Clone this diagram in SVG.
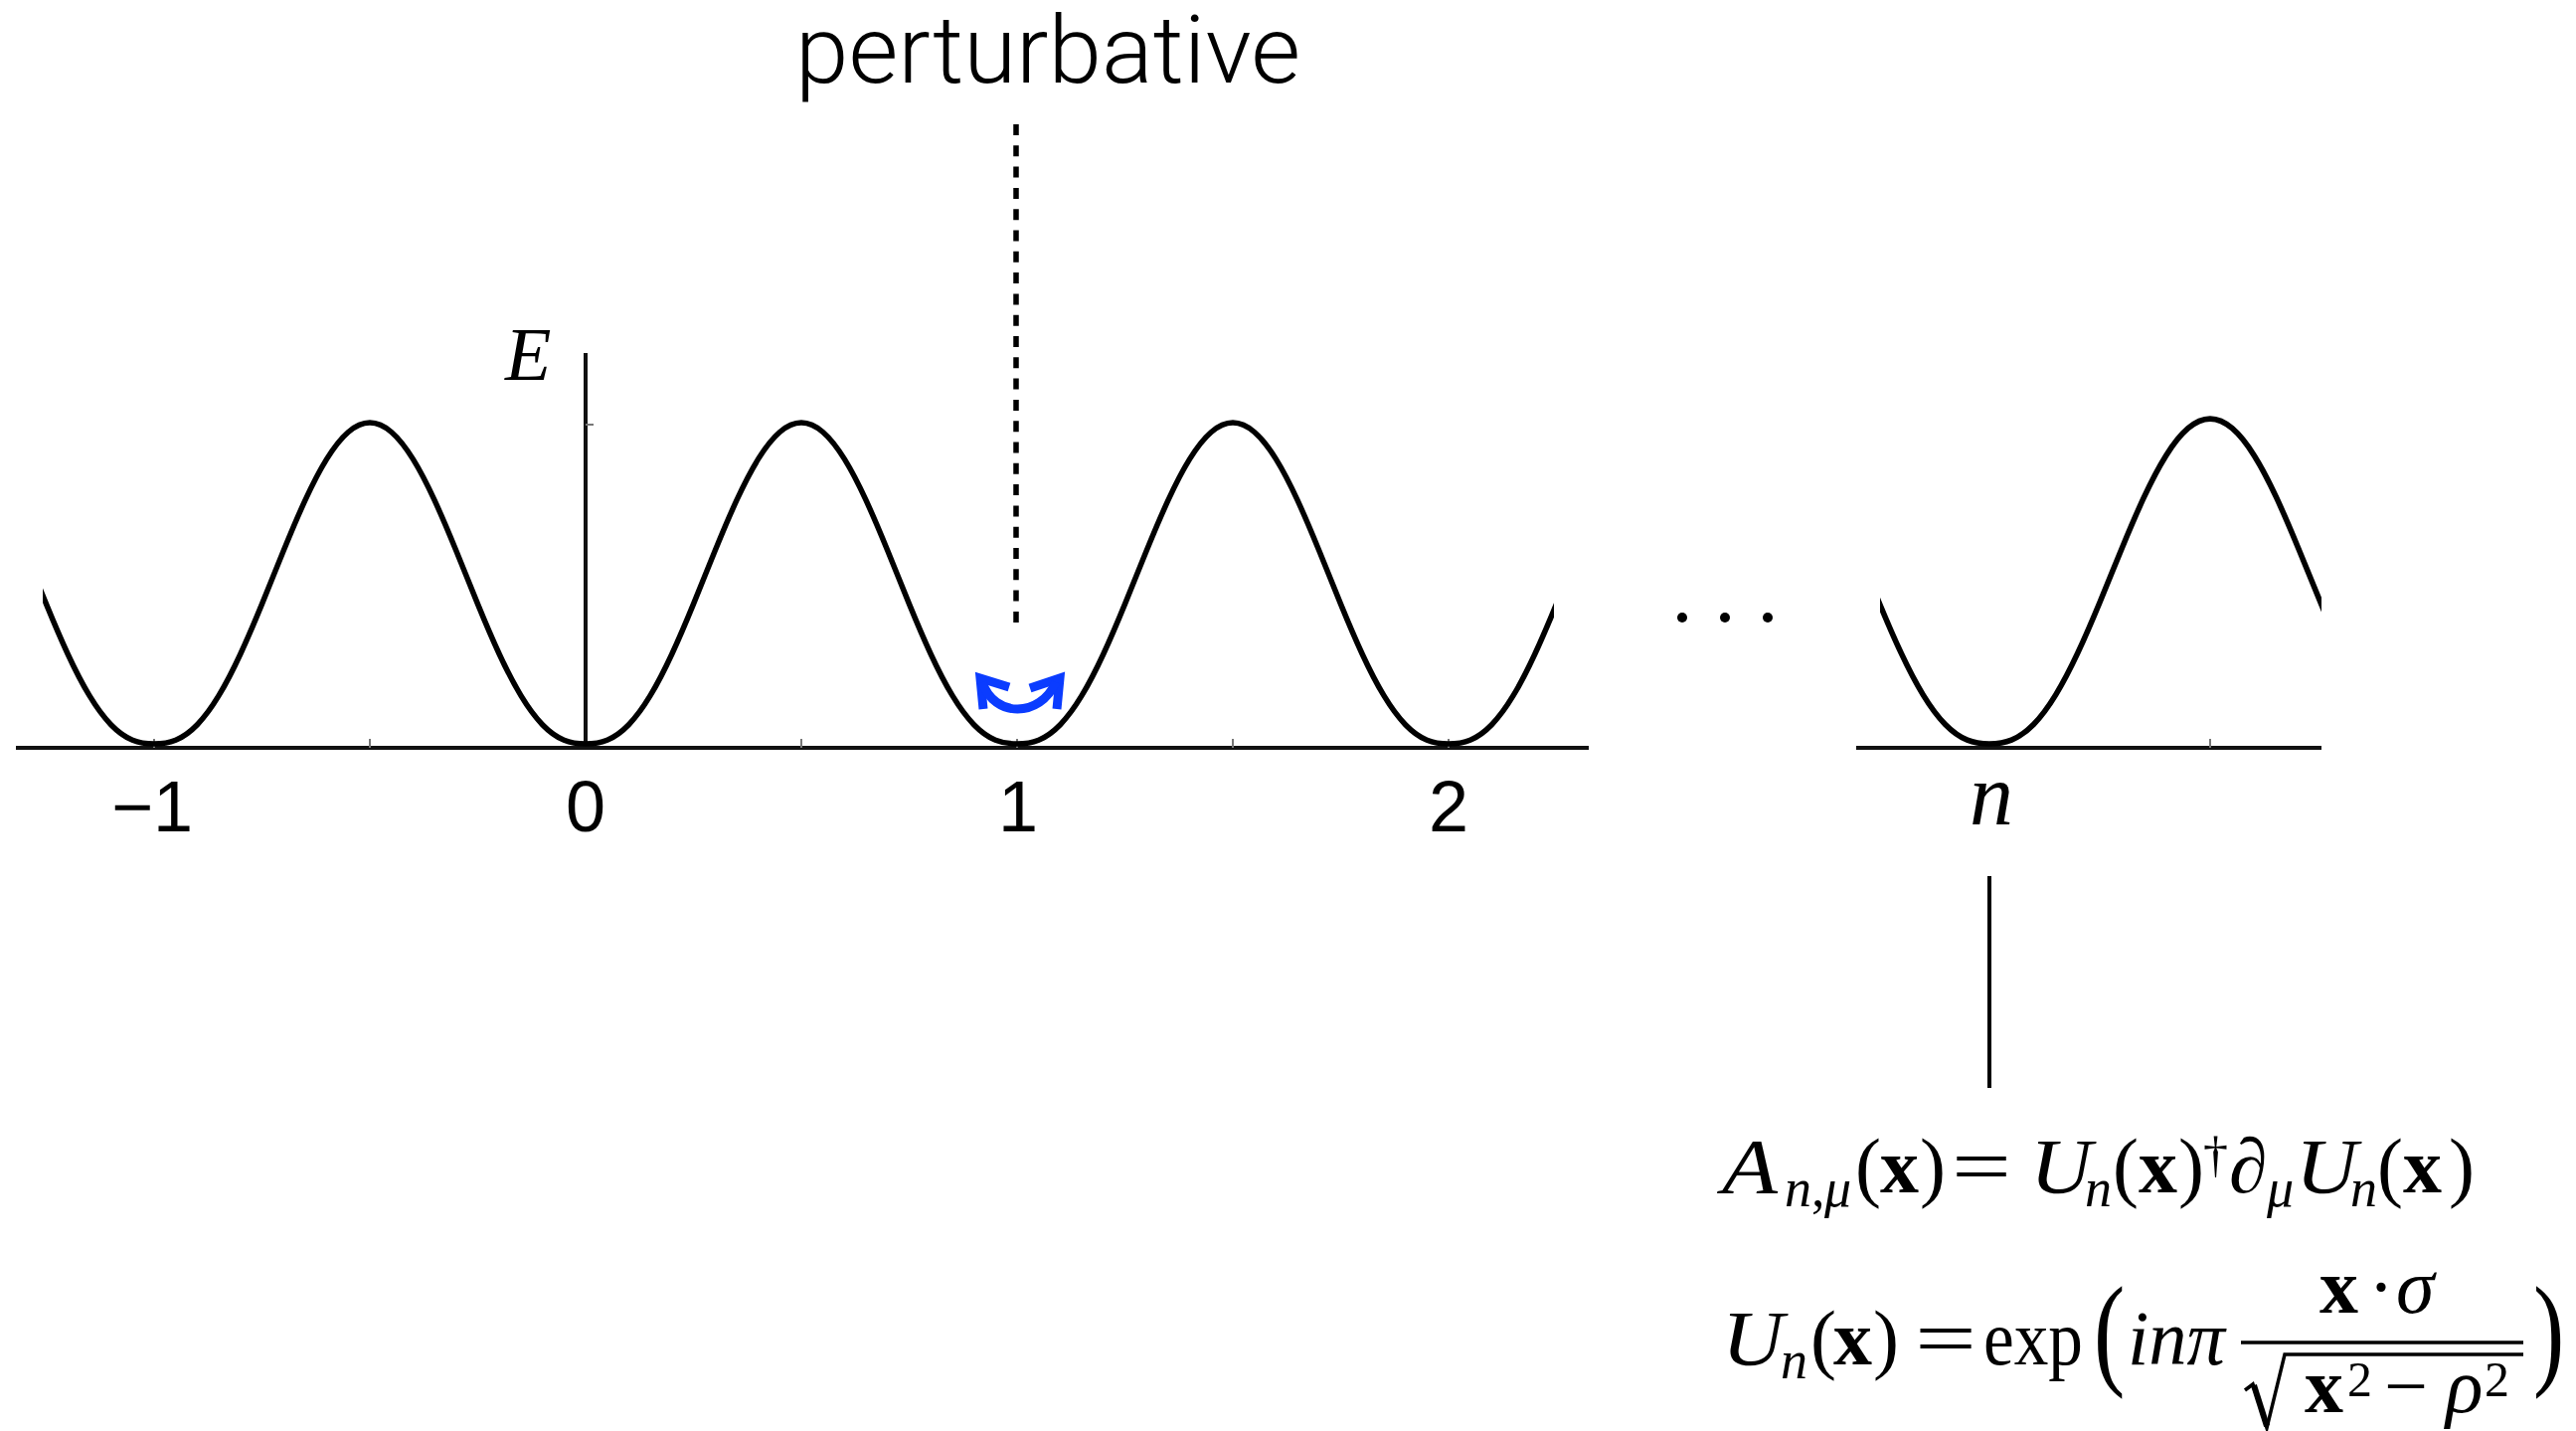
<svg xmlns="http://www.w3.org/2000/svg" xmlns:xlink="http://www.w3.org/1999/xlink" width="2591" height="1439" viewBox="0 0 2591 1439">
<style>
.crv{fill:none;stroke:#000;stroke-width:5.5;stroke-linejoin:round}
.ax{stroke:#111;stroke-width:4}
.tk{stroke:#777;stroke-width:2}
.lbl{font-family:"Liberation Sans",Arial,sans-serif;font-size:72px;fill:#000}
.m{font-family:"Liberation Serif","Times New Roman",serif;font-size:78px;fill:#000}
.i{font-style:italic}
.b{font-weight:bold}
.s{font-size:54px}
.sup{font-size:50px}
.big{font-size:94px}
.lab{font-size:88px}
</style>
<defs>
<path id="period" d="M0 0 C7.23 0 14.47 -0.78 21.7 -3.77 C28.93 -6.75 36.17 -11.82 43.4 -19.28 C50.63 -26.74 57.87 -36.58 65.1 -48.55 C72.33 -60.52 79.57 -74.64 86.8 -90.25 C94.03 -105.86 101.27 -122.93 108.5 -140.6 C115.73 -158.27 122.97 -176.49 130.2 -194.22 C137.43 -211.950 144.67 -229.19 151.9 -244.87 C159.13 -260.55 166.37 -274.65 173.6 -286.34 C180.83 -298.03 188.07 -307.3 195.3 -313.54 C202.53 -319.78 209.77 -323 217 -323 C224.23 -323 231.47 -319.78 238.7 -313.54 C245.93 -307.3 253.17 -298.03 260.4 -286.34 C267.63 -274.65 274.87 -260.55 282.1 -244.87 C289.33 -229.19 296.57 -211.95 303.8 -194.22 C311.03 -176.49 318.27 -158.27 325.5 -140.6 C332.73 -122.93 339.97 -105.86 347.2 -90.25 C354.43 -74.64 361.67 -60.52 368.9 -48.55 C376.13 -36.58 383.37 -26.74 390.6 -19.28 C397.83 -11.82 405.07 -6.75 412.3 -3.77 C419.53 -0.78 426.77 0 434 0"/>
<clipPath id="clipL"><rect x="43" y="300" width="1520" height="460"/></clipPath>
<clipPath id="clipR"><rect x="1891" y="300" width="444" height="460"/></clipPath>
</defs>
<rect width="2591" height="1439" fill="#fff"/>

<g id="label-perturbative">
<text x="800" y="83" font-family="Roboto,'Liberation Sans',sans-serif" font-weight="300" font-size="95" textLength="508" lengthAdjust="spacingAndGlyphs">perturbative</text>
</g>

<g id="plot-main">
<line class="ax" x1="16" y1="752" x2="1598" y2="752"/>
<line class="ax" x1="589" y1="355" x2="589" y2="752"/>
<line class="tk" x1="589" y1="427" x2="597" y2="427"/>
<g class="tk">
<line x1="372" y1="743" x2="372" y2="752"/>
<line x1="806" y1="743" x2="806" y2="752"/>
<line x1="1240" y1="743" x2="1240" y2="752"/>
<line x1="1023" y1="743" x2="1023" y2="752"/>
<line x1="155" y1="743" x2="155" y2="752"/>
<line x1="1457" y1="743" x2="1457" y2="752"/>
</g>
<g clip-path="url(#clipL)">
<use xlink:href="#period" class="crv" transform="translate(-279,748)"/>
<use xlink:href="#period" class="crv" transform="translate(155,748)"/>
<use xlink:href="#period" class="crv" transform="translate(589,748)"/>
<use xlink:href="#period" class="crv" transform="translate(1023,748)"/>
<use xlink:href="#period" class="crv" transform="translate(1457,748)"/>
</g>
<text class="m i" x="508" y="382" style="font-size:76px">E</text>
<text class="lbl" x="112" y="836">−1</text>
<text class="lbl" x="589" y="836" text-anchor="middle">0</text>
<text class="lbl" x="1004" y="836">1</text>
<text class="lbl" x="1457" y="836" text-anchor="middle">2</text>
</g>

<g id="perturbation-arrows" fill="none" stroke="#0b3cff" stroke-width="9" stroke-linejoin="miter">
<path d="M1015 691 L986 682 L989 713"/>
<path d="M1036 692 L1066 682 L1063 713"/>
<path d="M988 686 C1000 722 1046 722 1062 686"/>
</g>

<g id="ellipsis">
<circle cx="1692" cy="621" r="5"/>
<circle cx="1735" cy="621" r="5"/>
<circle cx="1778" cy="621" r="5"/>
</g>

<g id="plot-n">
<line class="ax" x1="1867" y1="752" x2="2335" y2="752"/>
<line class="tk" x1="2223" y1="743" x2="2223" y2="752"/>
<g clip-path="url(#clipR)">
<use xlink:href="#period" class="crv" transform="translate(1557,748) scale(1.023,1.012)"/>
<use xlink:href="#period" class="crv" transform="translate(2001,748) scale(1.023,1.012)"/>
</g>
<text class="m i lab" x="2003" y="829" text-anchor="middle">n</text>
</g>

<g id="connectors">
<line x1="1022" y1="125" x2="1022" y2="628" stroke="#000" stroke-width="5.5" stroke-dasharray="11 10.3"/>
<line x1="2001" y1="881" x2="2001" y2="1094" stroke="#000" stroke-width="4"/>
</g>

<g id="formula-A">
<text class="m i" x="1732" y="1199" textLength="56" lengthAdjust="spacingAndGlyphs">A</text>
<text class="m i s" x="1795" y="1213">n</text>
<text class="m s" x="1822" y="1213">,</text>
<text class="m i s" x="1835" y="1213">μ</text>
<text class="m" x="1866" y="1199">(</text>
<text class="m b" x="1891" y="1199">x</text>
<text class="m" x="1931" y="1199">)</text>
<text class="m" x="1963" y="1199" textLength="60" lengthAdjust="spacingAndGlyphs">=</text>
<text class="m i" x="2042" y="1199" textLength="62" lengthAdjust="spacingAndGlyphs">U</text>
<text class="m i s" x="2097" y="1213">n</text>
<text class="m" x="2125" y="1199">(</text>
<text class="m b" x="2151" y="1199">x</text>
<text class="m" x="2191" y="1199">)</text>
<text class="m sup" x="2216" y="1178">†</text>
<text class="m i" x="2242" y="1199">∂</text>
<text class="m i s" x="2280" y="1213">μ</text>
<text class="m i" x="2309" y="1199" textLength="62" lengthAdjust="spacingAndGlyphs">U</text>
<text class="m i s" x="2364" y="1213">n</text>
<text class="m" x="2391" y="1199">(</text>
<text class="m b" x="2417" y="1199">x</text>
<text class="m" x="2463" y="1199">)</text>
</g>

<g id="formula-U">
<text class="m i" x="1732" y="1372" textLength="62" lengthAdjust="spacingAndGlyphs">U</text>
<text class="m i s" x="1791" y="1386">n</text>
<text class="m" x="1821" y="1372">(</text>
<text class="m b" x="1844" y="1372">x</text>
<text class="m" x="1884" y="1372">)</text>
<text class="m" x="1926" y="1372" textLength="62" lengthAdjust="spacingAndGlyphs">=</text>
<text class="m" x="1995" y="1372" textLength="100" lengthAdjust="spacingAndGlyphs">exp</text>
<text class="m big" transform="translate(2106,1380) scale(1,1.33)">(</text>
<text class="m i" x="2140" y="1372" textLength="98" lengthAdjust="spacingAndGlyphs">inπ</text>
<text class="m b" x="2333" y="1320">x</text>
<text class="m" x="2382" y="1320">·</text>
<text class="m i" x="2410" y="1320">σ</text>
<line x1="2254" y1="1350" x2="2538" y2="1350" stroke="#000" stroke-width="3.5"/>
<polyline points="2258,1398 2266,1392 2280,1436 2298,1362 2538,1362" fill="none" stroke="#000" stroke-width="3.5" stroke-linejoin="miter"/>
<line x1="2267" y1="1393" x2="2280" y2="1434" stroke="#000" stroke-width="6"/>
<text class="m b" x="2318" y="1420">x</text>
<text class="m sup" x="2361" y="1404">2</text>
<text class="m" x="2398" y="1420">−</text>
<text class="m i" x="2460" y="1420">ρ</text>
<text class="m sup" x="2499" y="1404">2</text>
<text class="m big" transform="translate(2548,1380) scale(1,1.33)">)</text>
</g>
</svg>
